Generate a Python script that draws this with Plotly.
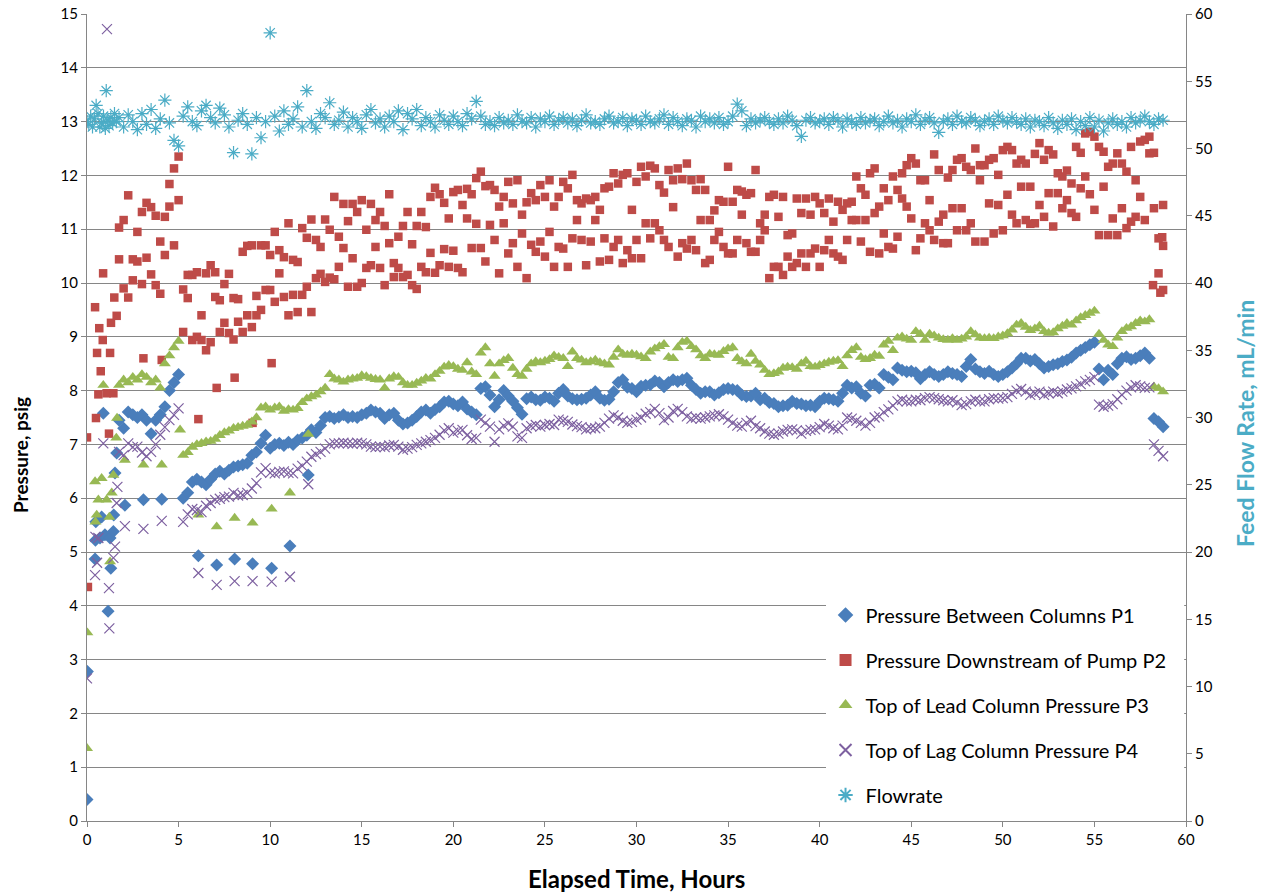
import plotly.graph_objects as go

# ---------------- data ----------------
# main logger time stamps (hours)
hours = [1.75,
 2.0, 2.25, 2.5, 2.75, 3.0, 3.25, 3.5, 3.75, 4.0, 4.25, 4.5, 4.75,
 5.0, 5.25, 5.5, 5.75, 6.0, 6.25, 6.5, 6.75, 7.0, 7.25, 7.5, 7.75,
 8.0, 8.25, 8.5, 8.75, 9.0, 9.25, 9.5, 9.75, 10.0, 10.25, 10.5, 10.75,
 11.0, 11.25, 11.5, 11.75, 12.0, 12.25, 12.5, 12.75, 13.0, 13.25, 13.5, 13.75,
 14.0, 14.25, 14.5, 14.75, 15.0, 15.25, 15.5, 15.75, 16.0, 16.25, 16.5, 16.75,
 17.0, 17.25, 17.5, 17.75, 18.0, 18.25, 18.5, 18.75, 19.0, 19.25, 19.5, 19.75,
 20.0, 20.25, 20.5, 20.75, 21.0, 21.25, 21.5, 21.75, 22.0, 22.25, 22.5, 22.75,
 23.0, 23.25, 23.5, 23.75, 24.0, 24.25, 24.5, 24.75, 25.0, 25.25, 25.5, 25.75,
 26.0, 26.25, 26.5, 26.75, 27.0, 27.25, 27.5, 27.75, 28.0, 28.25, 28.5, 28.75,
 29.0, 29.25, 29.5, 29.75, 30.0, 30.25, 30.5, 30.75, 31.0, 31.25, 31.5, 31.75,
 32.0, 32.25, 32.5, 32.75, 33.0, 33.25, 33.5, 33.75, 34.0, 34.25, 34.5, 34.75,
 35.0, 35.25, 35.5, 35.75, 36.0, 36.25, 36.5, 36.75, 37.0, 37.25, 37.5, 37.75,
 38.0, 38.25, 38.5, 38.75, 39.0, 39.25, 39.5, 39.75, 40.0, 40.25, 40.5, 40.75,
 41.0, 41.25, 41.5, 41.75, 42.0, 42.25, 42.5, 42.75, 43.0, 43.25, 43.5, 43.75,
 44.0, 44.25, 44.5, 44.75, 45.0, 45.25, 45.5, 45.75, 46.0, 46.25, 46.5, 46.75,
 47.0, 47.25, 47.5, 47.75, 48.0, 48.25, 48.5, 48.75, 49.0, 49.25, 49.5, 49.75,
 50.0, 50.25, 50.5, 50.75, 51.0, 51.25, 51.5, 51.75, 52.0, 52.25, 52.5, 52.75,
 53.0, 53.25, 53.5, 53.75, 54.0, 54.25, 54.5, 54.75, 55.0, 55.25, 55.5, 55.75,
 56.0, 56.25, 56.5, 56.75, 57.0, 57.25, 57.5, 57.75, 58.0, 58.25, 58.5, 58.75]

p1 = [7.45,
 7.3, 7.6, 7.55, 7.5, 7.55, 7.45, 7.2, 7.45, 7.55, 7.7, 8.0, 8.15,
 8.3, 6.0, 6.1, 6.3, 6.35, 6.3, 6.25, 6.35, 6.45, 6.5, 6.45, 6.52,
 6.58, 6.6, 6.62, 6.65, 6.8, 6.86, 7.02, 7.17, 6.93, 7.0, 7.02, 6.98,
 7.04, 7.0, 7.08, 7.12, 7.17, 7.27, 7.22, 7.35, 7.5, 7.52, 7.48, 7.51,
 7.55, 7.5, 7.52, 7.5, 7.55, 7.58, 7.64, 7.6, 7.58, 7.48, 7.55, 7.58,
 7.45, 7.38, 7.4, 7.45, 7.52, 7.6, 7.64, 7.58, 7.65, 7.7, 7.79, 7.8,
 7.75, 7.72, 7.79, 7.66, 7.6, 7.55, 8.04, 8.07, 7.92, 7.7, 7.83, 8.0,
 7.9, 7.8, 7.68, 7.56, 7.85, 7.88, 7.83, 7.82, 7.88, 7.86, 7.8, 7.95,
 8.02, 7.9, 7.85, 7.83, 7.84, 7.86, 7.92, 7.98, 7.86, 7.82, 7.84, 7.98,
 8.15, 8.2, 8.06, 8.04, 7.98, 8.08, 8.1, 8.11, 8.18, 8.15, 8.07, 8.15,
 8.2, 8.17, 8.2, 8.23, 8.1, 8.02, 7.95, 7.98, 7.98, 7.92, 7.96, 8.02,
 8.04, 8.02, 8.0, 7.92, 7.89, 7.9, 7.95, 7.83, 7.86, 7.78, 7.76, 7.7,
 7.72, 7.73, 7.8, 7.76, 7.75, 7.72, 7.73, 7.7, 7.8, 7.86, 7.85, 7.83,
 7.8, 7.95, 8.1, 8.05, 8.07, 7.95, 7.9, 8.1, 8.12, 8.05, 8.3, 8.25,
 8.2, 8.42, 8.38, 8.35, 8.36, 8.33, 8.22, 8.3, 8.35, 8.3, 8.26, 8.3,
 8.35, 8.32, 8.3, 8.26, 8.45, 8.58, 8.4, 8.35, 8.32, 8.36, 8.3, 8.26,
 8.3, 8.35, 8.42, 8.5, 8.6, 8.6, 8.55, 8.58, 8.5, 8.42, 8.45, 8.48,
 8.5, 8.54, 8.57, 8.62, 8.7, 8.75, 8.8, 8.85, 8.9, 8.4, 8.2, 8.38,
 8.3, 8.5, 8.6, 8.63, 8.58, 8.6, 8.65, 8.7, 8.6, 7.48, 7.42, 7.33]

p2_upper = [11.03,
 11.17, 11.63, 10.44, 10.95, 11.32, 11.49, 11.41, 11.25, 10.77, 11.23, 11.84, 12.13,
 12.35, 9.88, 10.15, 10.15, 10.2, 9.4, 10.18, 10.33, 10.2, 9.68, 9.98, 10.17,
 9.72, 9.7, 10.58, 10.69, 10.7, 9.76, 10.7, 10.7, 10.52, 10.95, 10.61, 10.48,
 11.11, 10.43, 10.39, 11.02, 10.84, 11.18, 10.8, 10.67, 11.18, 10.99, 11.6, 10.86,
 11.47, 11.15, 11.47, 11.32, 11.54, 10.99, 11.47, 11.17, 11.32, 11.06, 11.65, 10.37,
 10.86, 11.06, 11.32, 10.72, 11.06, 11.32, 11.04, 11.6, 11.77, 11.65, 11.49, 11.2,
 11.69, 11.73, 11.45, 11.75, 11.65, 11.95, 12.07, 11.8, 11.82, 11.73, 11.42, 11.6,
 11.88, 11.48, 11.91, 11.27, 11.5, 11.67, 11.54, 11.82, 11.6, 11.91, 11.42, 11.6,
 11.88, 11.76, 12.01, 11.54, 11.48, 11.57, 11.54, 11.6, 11.36, 11.76, 11.79, 12.04,
 11.85, 12.01, 12.04, 11.36, 11.88, 12.16, 11.98, 12.18, 12.13, 11.82, 11.68, 12.1,
 11.91, 12.13, 11.93, 12.22, 11.91, 11.73, 11.93, 11.73, 11.17, 11.35, 11.54, 11.51,
 12.16, 11.51, 11.73, 11.7, 11.64, 11.67, 12.1, 11.11, 11.27, 11.6, 11.64, 11.23,
 11.6, 10.89, 10.92, 11.57, 11.3, 11.57, 11.27, 11.6, 11.48, 11.3, 11.57, 11.14,
 11.51, 11.36, 11.48, 11.51, 11.98, 11.76, 11.64, 12.04, 12.13, 11.42, 11.76, 11.54,
 11.98, 11.73, 12.04, 12.19, 12.32, 12.22, 11.91, 11.91, 11.54, 12.39, 12.1, 11.27,
 11.96, 12.1, 12.29, 12.32, 12.16, 12.1, 12.5, 12.19, 12.19, 12.29, 12.32, 12.01,
 12.47, 12.53, 12.47, 12.22, 12.29, 12.22, 11.79, 12.4, 12.6, 12.29, 12.47, 12.39,
 12.04, 11.98, 12.09, 11.85, 12.53, 12.42, 12.78, 12.81, 12.72, 12.53, 12.44, 12.16,
 12.22, 12.41, 12.22, 12.07, 12.53, 11.91, 12.63, 12.66, 12.72, 12.42, 10.83, 11.45]

p2_lower = [10.44,
 9.9, 9.73, 10.05, 10.4, 9.98, 10.47, 10.16, 9.96, 9.8, 10.52, 11.42, 10.7,
 11.54, 9.09, 9.72, 8.94, 9.0, 8.94, 8.75, 8.9, 9.74, 9.09, 9.26, 9.07,
 8.95, 9.28, 9.09, 9.4, 9.18, 9.4, 9.5, 9.87, 9.87, 9.65, 10.18, 9.74,
 9.4, 9.78, 9.46, 9.78, 9.93, 9.46, 10.09, 10.17, 10.02, 10.1, 10.07, 10.3,
 10.65, 9.93, 10.46, 9.93, 10.0, 10.28, 10.33, 10.67, 10.28, 9.96, 10.74, 10.11,
 10.28, 10.11, 10.15, 9.96, 9.89, 10.3, 10.2, 10.56, 10.19, 10.33, 10.63, 10.3,
 10.6, 10.28, 10.2, 11.2, 10.65, 11.1, 10.65, 10.4, 11.08, 10.8, 10.18, 11.11,
 10.55, 10.74, 10.3, 10.92, 10.09, 10.71, 10.58, 10.77, 10.49, 10.95, 10.3, 10.67,
 10.64, 10.3, 10.83, 11.17, 10.8, 10.33, 10.77, 11.17, 10.4, 10.83, 10.43, 10.67,
 10.8, 10.37, 10.61, 10.46, 10.8, 10.46, 11.11, 10.83, 11.11, 10.98, 10.8, 10.67,
 11.41, 10.49, 10.74, 10.64, 10.8, 10.61, 11.17, 10.37, 10.43, 10.8, 10.95, 10.67,
 10.55, 10.55, 10.8, 11.27, 10.74, 10.58, 10.58, 10.8, 10.98, 10.09, 10.3, 10.3,
 10.15, 10.49, 10.3, 10.37, 10.55, 10.3, 10.55, 10.64, 10.3, 10.61, 10.8, 10.55,
 10.49, 10.43, 10.8, 11.17, 11.17, 10.77, 11.17, 10.58, 11.3, 10.55, 10.92, 10.67,
 10.64, 10.86, 11.57, 11.42, 11.2, 10.61, 10.83, 11.11, 10.98, 10.8, 11.14, 10.74,
 10.74, 11.39, 10.98, 11.39, 10.98, 11.11, 10.77, 11.91, 10.77, 11.48, 10.92, 11.45,
 10.98, 11.64, 11.27, 11.11, 11.79, 11.17, 11.1, 11.11, 11.45, 11.23, 11.67, 11.05,
 11.67, 11.39, 11.54, 11.3, 11.23, 11.76, 11.98, 11.65, 11.36, 10.89, 11.79, 10.89,
 11.2, 10.89, 11.39, 11.02, 11.14, 11.23, 11.6, 11.17, 12.41, 11.39, 10.18, 9.87]

p3 = [8.1,
 8.2, 8.15, 8.25, 8.2, 8.3, 8.25, 8.15, 8.2, 8.05, 8.5, 8.65, 8.8,
 8.92, 6.8, 6.85, 6.95, 7.0, 7.02, 7.05, 7.06, 7.1, 7.17, 7.22, 7.25,
 7.3, 7.32, 7.34, 7.36, 7.42, 7.5, 7.68, 7.7, 7.64, 7.68, 7.7, 7.62,
 7.65, 7.64, 7.67, 7.78, 7.85, 7.89, 7.92, 7.98, 8.05, 8.3, 8.22, 8.2,
 8.16, 8.2, 8.22, 8.23, 8.28, 8.26, 8.23, 8.21, 8.2, 8.05, 8.22, 8.26,
 8.25, 8.15, 8.1, 8.1, 8.14, 8.18, 8.23, 8.22, 8.3, 8.36, 8.44, 8.47,
 8.45, 8.4, 8.38, 8.52, 8.35, 8.3, 8.7, 8.8, 8.5, 8.27, 8.5, 8.56,
 8.6, 8.42, 8.3, 8.27, 8.4, 8.5, 8.54, 8.52, 8.55, 8.58, 8.65, 8.62,
 8.6, 8.45, 8.72, 8.6, 8.57, 8.52, 8.54, 8.57, 8.52, 8.5, 8.48, 8.62,
 8.76, 8.68, 8.66, 8.68, 8.66, 8.63, 8.6, 8.72, 8.78, 8.82, 8.86, 8.62,
 8.6, 8.8, 8.9, 8.92, 8.82, 8.76, 8.65, 8.6, 8.68, 8.67, 8.66, 8.73,
 8.78, 8.8, 8.6, 8.54, 8.5, 8.68, 8.55, 8.48, 8.38, 8.3, 8.32, 8.35,
 8.42, 8.44, 8.43, 8.4, 8.5, 8.55, 8.45, 8.44, 8.47, 8.5, 8.53, 8.55,
 8.56, 8.45, 8.65, 8.75, 8.8, 8.62, 8.58, 8.6, 8.66, 8.64, 8.85, 8.92,
 8.75, 8.98, 9.0, 8.96, 8.94, 9.1, 9.05, 8.94, 9.05, 9.02, 8.98, 8.95,
 8.94, 8.97, 8.94, 8.96, 9.0, 9.1, 9.04, 8.98, 8.97, 8.98, 8.97, 9.0,
 9.02, 9.06, 9.13, 9.22, 9.25, 9.18, 9.12, 9.15, 9.2, 9.1, 9.07, 9.08,
 9.15, 9.2, 9.25, 9.22, 9.3, 9.36, 9.4, 9.44, 9.48, 9.05, 8.94, 8.85,
 8.82, 8.98, 9.1, 9.16, 9.19, 9.25, 9.3, 9.28, 9.32, 8.07, 8.04, 7.98]

p4 = [6.86,
 6.8, 7.02, 6.95, 6.96, 6.85, 6.78, 6.86, 7.0, 7.18, 7.32, 7.45, 7.55,
 7.67, 5.56, 5.7, 5.8, 5.78, 5.74, 5.86, 5.91, 5.97, 5.99, 6.02, 6.03,
 6.1, 6.05, 6.06, 6.1, 6.18, 6.28, 6.48, 6.56, 6.47, 6.46, 6.49, 6.5,
 6.47, 6.46, 6.55, 6.6, 6.68, 6.77, 6.82, 6.86, 6.92, 7.0, 7.02, 7.02,
 7.03, 7.02, 7.01, 7.03, 7.02, 7.0, 6.96, 6.95, 6.96, 6.95, 6.98, 6.99,
 6.96, 6.9, 6.92, 6.95, 6.99, 7.02, 7.05, 7.08, 7.12, 7.18, 7.26, 7.3,
 7.22, 7.25, 7.27, 7.17, 7.1, 7.12, 7.46, 7.4, 7.33, 7.05, 7.28, 7.35,
 7.39, 7.33, 7.15, 7.12, 7.3, 7.34, 7.36, 7.33, 7.36, 7.38, 7.36, 7.46,
 7.44, 7.42, 7.37, 7.34, 7.32, 7.28, 7.3, 7.3, 7.33, 7.4, 7.48, 7.54,
 7.5, 7.44, 7.4, 7.42, 7.46, 7.5, 7.57, 7.6, 7.66, 7.58, 7.45, 7.5,
 7.62, 7.66, 7.6, 7.52, 7.48, 7.5, 7.48, 7.5, 7.52, 7.54, 7.56, 7.52,
 7.46, 7.4, 7.35, 7.33, 7.4, 7.44, 7.34, 7.3, 7.24, 7.2, 7.18, 7.2,
 7.24, 7.27, 7.28, 7.26, 7.2, 7.25, 7.27, 7.28, 7.32, 7.38, 7.35, 7.3,
 7.28, 7.35, 7.5, 7.48, 7.44, 7.4, 7.35, 7.4, 7.5, 7.52, 7.6, 7.65,
 7.72, 7.8, 7.83, 7.8, 7.8, 7.83, 7.82, 7.86, 7.88, 7.86, 7.84, 7.82,
 7.8, 7.82, 7.78, 7.73, 7.75, 7.8, 7.83, 7.8, 7.8, 7.84, 7.86, 7.85,
 7.86, 7.88, 7.94, 8.0, 8.03, 7.98, 7.92, 7.95, 7.98, 7.92, 7.95, 7.98,
 7.95, 7.98, 8.02, 8.04, 8.08, 8.12, 8.17, 8.2, 8.25, 7.74, 7.7, 7.72,
 7.75, 7.84, 7.92, 8.0, 8.06, 8.1, 8.08, 8.05, 8.06, 7.0, 6.88, 6.78]

flowrate = [52.3,
 51.6, 52.5, 52.0, 51.4, 52.6, 51.8, 52.9, 51.5, 52.2, 53.6, 51.9, 50.6,
 50.2, 52.4, 53.1, 52.0, 51.7, 52.8, 53.2, 52.3, 51.9, 53.0, 52.5, 51.6,
 49.7, 52.1, 52.6, 51.8, 49.6, 52.3, 50.8, 52.0, 58.6, 52.4, 51.3, 52.8,
 51.8, 52.2, 53.1, 51.6, 54.3, 52.0, 51.5, 52.6, 52.3, 53.4, 51.8, 52.1,
 52.7, 51.6, 52.3, 52.0, 51.5, 52.5, 52.9, 51.9, 52.2, 51.6, 52.4, 52.0,
 52.8, 51.4, 52.6, 52.2, 52.9, 51.7, 52.3, 52.0, 51.6, 52.5, 52.1, 51.8,
 52.4, 52.0, 51.7, 52.6, 52.2, 53.5, 52.4, 51.8, 52.0, 51.7, 52.3, 51.9,
 52.1, 51.8, 52.5, 52.0, 51.9, 52.3, 51.6, 52.2, 52.0, 52.4, 51.8, 52.1,
 52.3, 51.9, 52.2, 51.7, 52.1, 52.5, 51.9, 52.0, 51.8, 52.2, 52.4, 51.9,
 52.0, 52.3, 51.7, 52.2, 52.1, 51.8, 52.4, 52.0, 51.9, 52.2, 52.5, 51.8,
 52.3, 52.0, 51.7, 52.2, 52.1, 51.6, 52.4, 52.0, 52.2, 51.9, 52.3, 51.8,
 52.0, 52.4, 53.3, 52.8, 51.7, 52.2, 51.9, 52.1, 52.3, 52.0, 51.8, 52.2,
 51.9, 52.4, 52.1, 51.7, 50.9, 52.1, 52.3, 51.9, 52.0, 52.2, 51.8, 52.3,
 52.1, 51.6, 52.2, 52.0, 51.8, 52.3, 51.9, 52.1, 52.2, 51.7, 52.0, 52.4,
 51.9, 52.1, 51.6, 52.2, 52.0, 52.5, 51.8, 52.1, 52.3, 51.9, 51.2, 52.0,
 52.2, 51.8, 52.4, 52.0, 51.9, 52.3, 52.1, 51.7, 52.0, 52.2, 51.8, 52.4,
 52.1, 51.9, 52.3, 52.0, 51.8, 52.2, 51.6, 52.1, 52.0, 51.7, 52.3, 51.9,
 51.5, 52.1, 51.8, 52.2, 51.4, 52.0, 51.7, 52.3, 51.6, 52.1, 51.3, 51.9,
 52.2, 51.8, 52.0, 51.6, 52.3, 51.9, 52.1, 52.4, 52.0, 51.8, 52.2, 52.1]

# start-up readings (first ~1.7 h)
p1_start_hours = [0.0, 0.02, 0.44, 0.46, 0.48, 0.71, 0.8, 0.89, 0.98, 1.15, 1.26, 1.3, 1.44, 1.46, 1.53, 1.62]
p1_start = [0.4, 2.78, 4.87, 5.22, 5.56, 5.26, 5.65, 7.58, 5.32, 3.9, 5.26, 4.7, 5.38, 5.69, 6.47, 6.84]
p2_start_hours = [0.0, 0.05, 0.49, 0.44, 0.62, 0.55, 0.67, 0.75, 0.86, 0.88, 1.07, 1.2, 1.26, 1.31, 1.44, 1.49, 1.62]
p2_start = [7.13, 4.35, 7.49, 9.55, 7.93, 8.7, 9.16, 8.36, 8.94, 10.18, 7.95, 7.2, 8.7, 9.26, 7.95, 9.73, 9.39]
p3_start_hours = [0.0, 0.02, 0.44, 0.46, 0.53, 0.62, 0.8, 0.89, 1.07, 1.22, 1.26, 1.35, 1.44, 1.6, 1.64]
p3_start = [1.35, 3.5, 6.31, 5.56, 5.69, 5.97, 6.37, 8.1, 5.97, 5.65, 4.82, 6.1, 6.43, 7.12, 7.49]
p4_start_hours = [0.0, 0.44, 0.46, 0.55, 0.62, 0.89, 1.09, 1.2, 1.22, 1.44, 1.53, 1.62, 1.66]
p4_start = [2.65, 4.57, 5.28, 4.8, 5.26, 7.02, 14.72, 4.33, 3.58, 4.89, 5.1, 5.91, 6.21]
flow_start_hours = [0.0, 0.1, 0.2, 0.3, 0.4, 0.5, 0.6, 0.7, 0.8, 0.9, 1.0, 1.05, 1.1, 1.2, 1.3, 1.4, 1.5, 1.6]
flow_start = [52.0, 51.8, 52.4, 51.6, 52.2, 53.2, 52.6, 51.6, 51.9, 52.4, 51.5, 54.3, 52.1, 51.7, 52.3, 51.9, 52.6, 52.0]

# hourly manual readings
manual_hours = [2.07, 3.08, 4.08, 5.08, 6.08, 7.08, 8.06, 9.04, 10.08, 11.08, 12.08]
p1_manual = [5.87, 5.97, 5.98, None, 4.93, 4.76, 4.87, 4.78, 4.7, 5.11, 6.43]
p2_manual = [None, 8.6, 8.57, None, 7.47, 8.05, 8.24, 7.4, 8.51, None, None]
p3_manual = [6.71, 6.62, 6.62, 7.27, 5.69, 5.47, 5.63, 5.54, 5.8, 6.1, 7.19]
p4_manual = [5.48, 5.43, 5.58, None, 4.61, 4.39, 4.46, 4.46, 4.45, 4.54, 6.26]

# shutdown readings
p2_end_hours = [58.2, 58.6, 58.7, 58.75]
p2_end = [9.96, 9.82, 10.85, 10.69]

series_names = ["Pressure Between Columns P1", "Pressure Downstream of Pump P2",
                "Top of Lead Column Pressure P3", "Top of Lag Column Pressure P4", "Flowrate"]

# ---------------- figure ----------------
fig = go.Figure()

fig.add_trace(go.Scatter(
    x=p1_start_hours + hours + manual_hours, y=p1_start + p1 + p1_manual,
    mode="markers", name=series_names[0], legendgroup="g1",
    marker=dict(symbol="diamond", size=10, color="#4A7EBB")))
fig.add_trace(go.Scatter(
    x=p2_start_hours + hours + hours + manual_hours + p2_end_hours,
    y=p2_start + p2_upper + p2_lower + p2_manual + p2_end,
    mode="markers", name=series_names[1], legendgroup="g2",
    marker=dict(symbol="square", size=8.5, color="#BE4B48")))
fig.add_trace(go.Scatter(
    x=p3_start_hours + hours + manual_hours, y=p3_start + p3 + p3_manual,
    mode="markers", name=series_names[2], legendgroup="g3",
    marker=dict(symbol="triangle-up", size=10.5, color="#98B954")))
fig.add_trace(go.Scatter(
    x=p4_start_hours + hours + manual_hours, y=p4_start + p4 + p4_manual,
    mode="markers", name=series_names[3], legendgroup="g4",
    marker=dict(symbol="x-thin", size=10, color="#7D60A0",
                line=dict(width=1.2, color="#7D60A0"))))
fig.add_trace(go.Scatter(
    x=flow_start_hours + hours, y=flow_start + flowrate, yaxis="y2",
    mode="markers", name=series_names[4], legendgroup="g5",
    marker=dict(symbol="asterisk", size=11, color="#4BACC6",
                line=dict(width=1.2, color="#4BACC6"))))

axis_gray = "#868686"
fig.update_layout(
    width=1267, height=896,
    margin=dict(l=87, r=81, t=14, b=75, autoexpand=False),
    paper_bgcolor="white", plot_bgcolor="white",
    font=dict(family="Lato, 'Open Sans', sans-serif", size=15, color="#000000"),
    showlegend=True,
    xaxis=dict(range=[0, 60], tick0=0, dtick=5, showgrid=False, zeroline=False,
               showline=True, linecolor=axis_gray, linewidth=1, automargin=False,
               ticks="outside", ticklen=5, tickcolor=axis_gray,
               tickfont=dict(size=15)),
    yaxis=dict(range=[0, 15], tick0=0, dtick=1, showgrid=True, gridcolor=axis_gray,
               gridwidth=1, zeroline=False, showline=True, linecolor=axis_gray,
               ticks="outside", ticklen=5, tickcolor=axis_gray, automargin=False,
               tickfont=dict(size=15)),
    yaxis2=dict(range=[0, 60], tick0=0, dtick=5, overlaying="y", side="right",
                showgrid=False, zeroline=False, showline=True, linecolor=axis_gray,
                ticks="outside", ticklen=5, tickcolor=axis_gray, automargin=False,
                tickfont=dict(size=15)),
    legend=dict(x=0.672, y=0.2795, xanchor="left", yanchor="top",
                bgcolor="rgba(255,255,255,1)", borderwidth=0,
                font=dict(size=20, color="#000000"), tracegroupgap=16,
                itemsizing="constant"),
    shapes=[dict(type="rect", xref="x", yref="y", x0=40.6, x1=59.9, y0=0.55, y1=4.5,
                 fillcolor="white", line=dict(width=0), layer="above")],
    annotations=[
        dict(text="<b>Elapsed Time, Hours</b>", xref="paper", yref="paper",
             x=0.5, y=-0.071, showarrow=False, font=dict(size=24), yanchor="middle"),
        dict(text="<b>Pressure, psig</b>", xref="paper", yref="paper",
             x=-0.061, y=0.4535, showarrow=False, textangle=-90, font=dict(size=19),
             xanchor="center", yanchor="middle"),
        dict(text="<b>Feed Flow Rate, mL/min</b>", xref="paper", yref="paper",
             x=1.0537, y=0.492, showarrow=False, textangle=-90,
             font=dict(size=23, color="#4BACC6"), xanchor="center", yanchor="middle"),
    ],
)

fig.write_html("out.html")
